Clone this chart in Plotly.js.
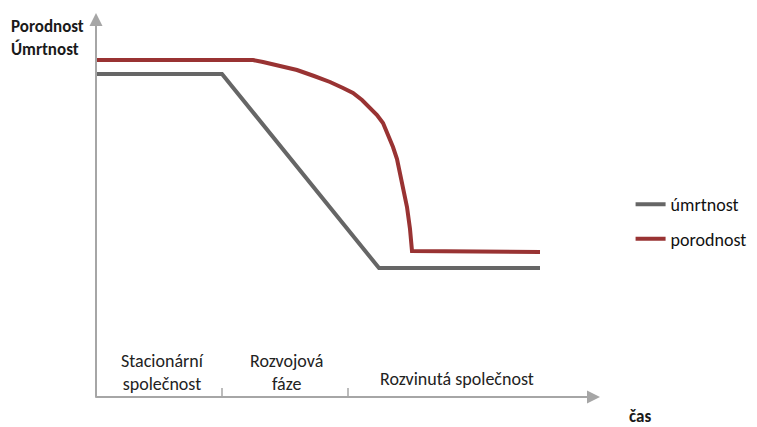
<!DOCTYPE html>
<html>
<head>
<meta charset="utf-8">
<script src="https://cdn.plot.ly/plotly-3.0.1.min.js"></script>
<style>html,body{margin:0;padding:0;background:#fff;}#chart{width:757px;height:427px;}</style>
</head>
<body>
<div id="chart"></div>
<script>
// time axis (arbitrary units) and rate values
var umrtnostX = [0, 126, 283, 444];
var umrtnostY = [323, 323, 129, 129];
var porodnostX = [0, 157, 167, 184, 201, 218, 234, 247, 257, 266, 274, 281, 287, 292, 297, 301, 304, 308, 311, 314, 316, 444];
var porodnostY = [337, 337, 335, 331, 327, 321, 315, 309, 304, 297, 289, 282, 274, 263, 250, 238, 224, 206, 190, 168, 146, 145];
var phaseBounds = [126, 252];
var phaseLabels = ["Stacionární<br>společnost", "Rozvojová<br>fáze", "Rozvinutá společnost"];
var phaseCenters = [66, 190, 361];
var seriesNames = ["úmrtnost", "porodnost"];

var FONT = "Carlito, Calibri, Lato, 'Liberation Sans', sans-serif";
var axisColor = "#a6a6a6";

var traces = [
  {x: umrtnostX, y: umrtnostY, mode: "lines", name: seriesNames[0],
   line: {color: "#666666", width: 4}, legendgroup: "a"},
  {x: porodnostX, y: porodnostY, mode: "lines", name: seriesNames[1],
   line: {color: "#993333", width: 4}, legendgroup: "b"}
];

var annotations = [];
// axis arrows
annotations.push({xref: "paper", yref: "paper", x: 0, y: 1, ax: 0, ay: 386, showarrow: true,
  arrowhead: 2, arrowsize: 1.3, arrowwidth: 2, arrowcolor: axisColor, text: ""});
annotations.push({xref: "paper", yref: "paper", x: 1, y: 0, ax: -506, ay: 0, showarrow: true,
  arrowhead: 2, arrowsize: 1.3, arrowwidth: 2, arrowcolor: axisColor, text: ""});
// y labels
annotations.push({xref: "paper", yref: "paper", x: -0.173, y: 0.965, xanchor: "left", yanchor: "middle",
  showarrow: false, align: "left", text: "<b>Porodnost</b>", font: {family: FONT, size: 17, color: "#1a1a1a"}});
annotations.push({xref: "paper", yref: "paper", x: -0.173, y: 0.905, xanchor: "left", yanchor: "middle",
  showarrow: false, align: "left", text: "<b>Úmrtnost</b>", font: {family: FONT, size: 17, color: "#1a1a1a"}});
// x label
annotations.push({xref: "paper", yref: "paper", x: 1.08, y: -0.05, xanchor: "center", yanchor: "middle",
  showarrow: false, text: "<b>čas</b>", font: {family: FONT, size: 17, color: "#1a1a1a"}});
// phases
for (var i = 0; i < phaseLabels.length; i++) {
  annotations.push({xref: "x", yref: "y", x: phaseCenters[i], y: i < 2 ? 25 : 18, xanchor: "center", yanchor: "middle",
    showarrow: false, align: "center", text: phaseLabels[i], font: {family: FONT, size: 18, color: "#222222"}});
}

var shapes = phaseBounds.map(function (b) {
  return {type: "line", xref: "x", yref: "y", x0: b, x1: b, y0: 9, y1: -8,
    line: {color: axisColor, width: 1.5}};
});

var layout = {
  width: 757, height: 427,
  margin: {l: 96, r: 157, t: 13, b: 30},
  paper_bgcolor: "#ffffff", plot_bgcolor: "#ffffff",
  xaxis: {range: [0, 504], showgrid: false, zeroline: false, showticklabels: false, ticks: "", showline: false, fixedrange: true},
  yaxis: {range: [0, 384], showgrid: false, zeroline: false, showticklabels: false, ticks: "", showline: false, fixedrange: true},
  showlegend: true,
  legend: {xref: "container", yref: "container", x: 0.833, y: 0.564, xanchor: "left", yanchor: "top", bgcolor: "rgba(0,0,0,0)",
    font: {family: FONT, size: 18, color: "#111111"}, traceorder: "grouped", tracegroupgap: 8},
  annotations: annotations,
  shapes: shapes
};

Plotly.newPlot("chart", traces, layout, {staticPlot: true, displayModeBar: false});
</script>
</body>
</html>
